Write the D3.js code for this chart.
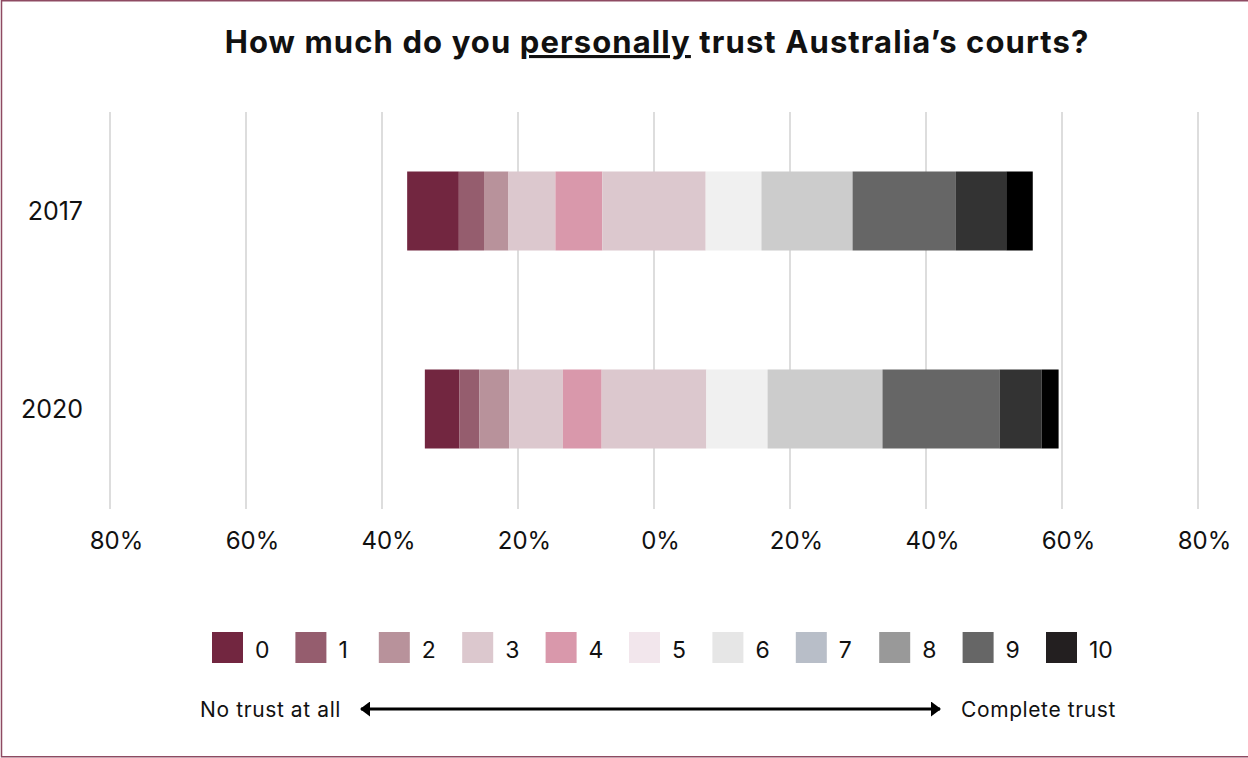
<!DOCTYPE html>
<html>
<head>
<meta charset="utf-8">
<script src="https://cdn.jsdelivr.net/npm/d3@7"></script>
<style>
  html, body { margin: 0; padding: 0; background: #fff; }
  svg { display: block; }
  text { font-family: Inter, "Open Sans", sans-serif; fill: #111; }
</style>
</head>
<body>
<div id="chart"></div>
<script>
// Survey years shown as rows
const years = ["2017", "2020"];
// Response scale 0 (no trust at all) .. 10 (complete trust)
const levels = ["0", "1", "2", "3", "4", "5", "6", "7", "8", "9", "10"];
// Share of respondents per level (%)
const values2017 = [7.6, 3.7, 3.6, 6.9, 6.9, 15.2, 8.2, 13.4, 15.2, 7.4, 3.9];
const values2020 = [5.1, 2.9, 4.4, 7.9, 5.7, 15.4, 9.0, 16.9, 17.2, 6.2, 2.5];
// Axis ticks (percent)
const tickValues = [-80, -60, -40, -20, 0, 20, 40, 60, 80];
// Colours used in the bars and in the legend
const barColors = ["#722640", "#955d6e", "#b8929b", "#dcc8ce", "#d998ab", "#dcc8ce",
                   "#f0f0f0", "#cccccc", "#666666", "#333333", "#000000"];
const legendColors = ["#722640", "#955d6e", "#b8929b", "#dcc8ce", "#d998ab", "#f2e6ec",
                      "#e6e6e6", "#b8bec8", "#999999", "#666666", "#231f20"];

const W = 1248, H = 758;
const svg = d3.select("#chart").append("svg").attr("width", W).attr("height", H);

// frame
svg.append("rect").attr("x", 1.5).attr("y", 0.75).attr("width", W + 4).attr("height", H - 2)
  .attr("fill", "none").attr("stroke", "#8e4a62").attr("stroke-width", 1.5);

const x = d3.scaleLinear().domain([-80, 80]).range([110, 1198]);
const y = d3.scaleBand().domain(years).range([112, 508]).paddingInner(0.601).paddingOuter(0.3005);

// gridlines
svg.append("g").selectAll("line").data(tickValues).join("line")
  .attr("x1", d => x(d)).attr("x2", d => x(d))
  .attr("y1", 112).attr("y2", 509)
  .attr("stroke", "#dddddd").attr("stroke-width", 2);

// axis labels
const xAxis = d3.axisBottom(x).tickValues(tickValues).tickSize(0)
  .tickFormat(d => Math.abs(d) + "%");
const ax = svg.append("g").attr("transform", "translate(6,532)").call(xAxis);
ax.select(".domain").remove();
ax.selectAll("text").attr("font-size", 24).attr("dy", "0.71em").attr("y", 0)
  .style("font-family", "Inter, sans-serif").attr("fill", "#111");

// diverging stacks: the neutral level 5 is centred on zero
const rows = years.map((yr, i) => {
  const vals = i === 0 ? values2017 : values2020;
  let start = -(d3.sum(vals.slice(0, 5)) + vals[5] / 2);
  return {
    year: yr,
    segs: vals.map((v, k) => { const s = { k, x0: start, x1: start + v }; start += v; return s; })
  };
});

const barG = svg.append("g");
rows.forEach(r => {
  barG.append("g").selectAll("rect").data(r.segs).join("rect")
    .attr("x", d => x(d.x0))
    .attr("width", d => x(d.x1) - x(d.x0))
    .attr("y", y(r.year))
    .attr("height", y.bandwidth())
    .attr("fill", d => barColors[d.k]);
});

// year labels
svg.append("g").selectAll("text").data(years).join("text")
  .attr("x", 83).attr("y", d => y(d) + y.bandwidth() / 2)
  .attr("dy", "0.36em").attr("text-anchor", "end")
  .attr("font-size", 25).text(d => d);

// title
const title = svg.append("text").attr("x", 657).attr("y", 53)
  .attr("text-anchor", "middle").attr("font-size", 31).attr("font-weight", 700)
  .attr("letter-spacing", 1.1);
title.append("tspan").text("How much do you ");
title.append("tspan").text("personally").style("text-decoration", "underline");
title.append("tspan").text(" trust Australia\u2019s courts?");

// legend
const legX = d3.scalePoint().domain(levels).range([212, 1046]);
const leg = svg.append("g").selectAll("g").data(levels).join("g")
  .attr("transform", d => `translate(${legX(d)},632)`);
leg.append("rect").attr("width", 31).attr("height", 31)
  .attr("fill", (d, i) => legendColors[i]);
leg.append("text").attr("x", 43).attr("y", 26).attr("font-size", 23).text(d => d);

// scale direction arrow
const arrowY = 709;
svg.append("defs").append("marker").attr("id", "head")
  .attr("viewBox", "0 0 10 10").attr("refX", 9).attr("refY", 5)
  .attr("markerWidth", 10).attr("markerHeight", 15).attr("orient", "auto-start-reverse")
  .attr("markerUnits", "userSpaceOnUse").attr("preserveAspectRatio", "none")
  .append("path").attr("d", "M0,0 L10,5 L0,10 Z").attr("fill", "#000");
svg.append("line").attr("x1", 361).attr("x2", 940).attr("y1", arrowY).attr("y2", arrowY)
  .attr("stroke", "#000").attr("stroke-width", 3)
  .attr("marker-start", "url(#head)").attr("marker-end", "url(#head)");
svg.append("text").attr("x", 341).attr("y", arrowY).attr("dy", "0.36em")
  .attr("text-anchor", "end").attr("font-size", 21).attr("letter-spacing", 0.6)
  .text("No trust at all");
svg.append("text").attr("x", 961).attr("y", arrowY).attr("dy", "0.36em")
  .attr("font-size", 21).attr("letter-spacing", 0.6).text("Complete trust");
</script>
</body>
</html>
